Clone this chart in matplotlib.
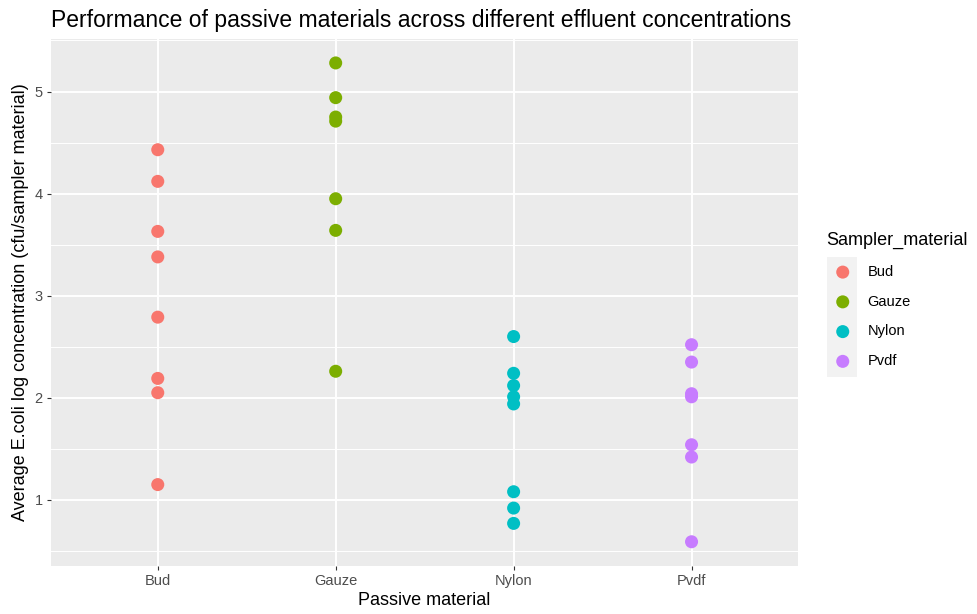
import matplotlib
matplotlib.use("Agg")
import matplotlib.pyplot as plt
from matplotlib.patches import Rectangle
from matplotlib.ticker import MultipleLocator, FixedLocator

plt.rcParams['font.family'] = ['Liberation Sans', 'DejaVu Sans']

categories = ["Bud", "Gauze", "Nylon", "Pvdf"]
colors = ["#F8766D", "#7CAE00", "#00BFC4", "#C77CFF"]
bud = [4.43, 4.12, 3.63, 3.38, 2.79, 2.19, 2.05, 1.15]
gauze = [5.28, 4.94, 4.75, 4.71, 3.95, 3.64, 2.26]
nylon = [2.60, 2.24, 2.12, 2.01, 1.94, 1.08, 0.92, 0.77]
pvdf = [2.52, 2.35, 2.04, 2.01, 1.54, 1.42, 0.59]
series = [bud, gauze, nylon, pvdf]

W, H = 978, 614
fig = plt.figure(figsize=(W / 100, H / 100), dpi=100)
ax = fig.add_axes([51 / W, 1 - 565.7 / H, (798.3 - 51) / W, (565.7 - 39) / H])
ax.set_facecolor("#EBEBEB")
for s in ax.spines.values():
    s.set_visible(False)

handles = []
for i, (cat, vals, c) in enumerate(zip(categories, series, colors)):
    h = ax.scatter([i + 1] * len(vals), vals, s=88, color=c, edgecolors='none',
                   zorder=3, label=cat)
    handles.append(h)

ax.set_xlim(0.4, 4.6)
allv = [v for s in series for v in s]
lo, hi = min(allv), max(allv)
pad = 0.05 * (hi - lo)
ax.set_ylim(lo - pad, hi + pad)
ax.xaxis.set_major_locator(FixedLocator([1, 2, 3, 4]))
ax.set_xticklabels(categories)
ax.yaxis.set_major_locator(MultipleLocator(1))
ax.yaxis.set_minor_locator(MultipleLocator(0.5))
ax.grid(which='major', color='white', linewidth=1.4, zorder=1)
ax.grid(which='minor', axis='y', color='white', linewidth=0.7, zorder=1)
ax.set_axisbelow(True)
ax.tick_params(which='major', length=3, width=0.8, color='#333333',
               labelcolor='#4D4D4D', labelsize=10.5, pad=3)
ax.tick_params(which='minor', length=0)

ax.set_xlabel("Passive material", fontsize=13, labelpad=3)
ax.set_ylabel("Average E.coli log concentration (cfu/sampler material)", fontsize=13, labelpad=4)
ax.set_title("Performance of passive materials across different effluent concentrations",
             fontsize=16.5, loc='left', pad=9)

# legend key background
fig.patches.append(Rectangle((826.7 / W, 1 - 376.7 / H), 30 / W, 120 / H,
                             transform=fig.transFigure, facecolor="#F2F2F2",
                             edgecolor='none', zorder=0))
leg = fig.legend(handles=handles, labels=categories, loc='upper left',
                 bbox_to_anchor=(826.7 / W, 1 - 232 / H), frameon=False,
                 title="Sampler_material", title_fontsize=13, fontsize=10.5,
                 alignment='left', handlelength=2.2, handletextpad=0.6,
                 labelspacing=1.08, borderpad=0, borderaxespad=0,
                 scatterpoints=1)

fig.savefig("out.png", dpi=100)
